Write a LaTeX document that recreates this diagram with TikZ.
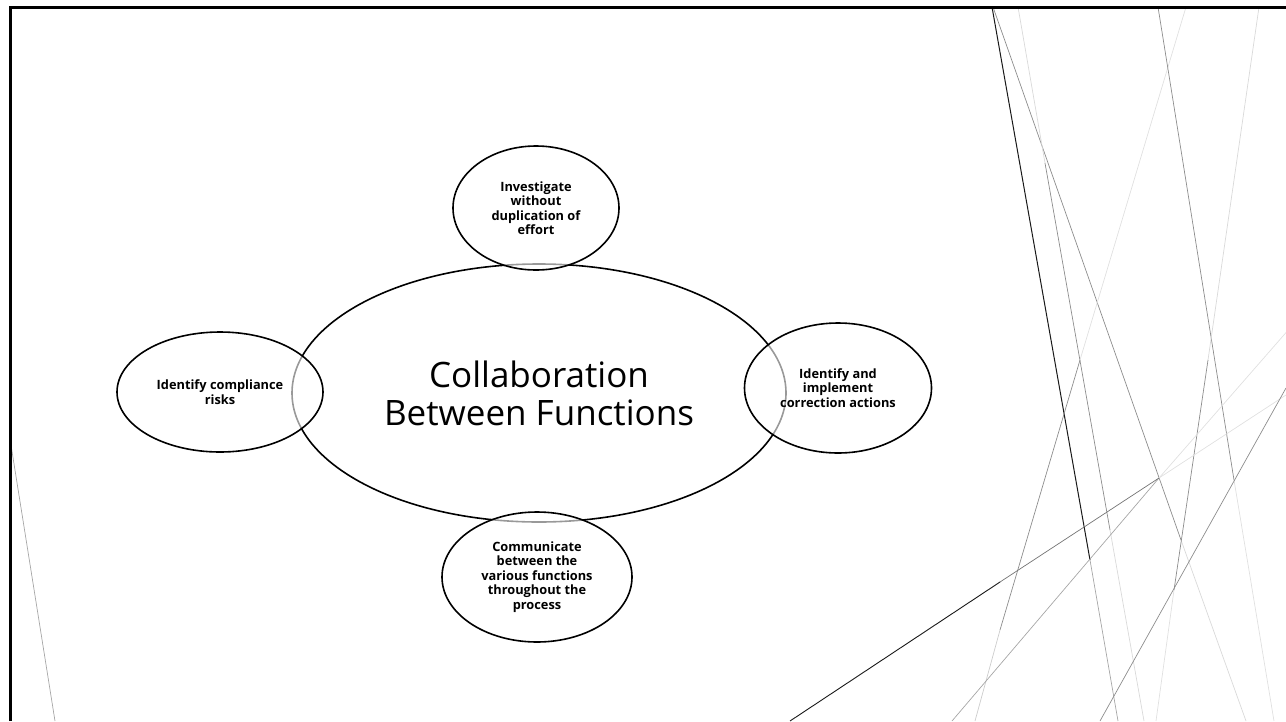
\documentclass[tikz,border=0pt]{standalone}
\usepackage{fontspec}
\setmainfont{Open Sans}
\usetikzlibrary{shapes.geometric}
\begin{document}
\begin{tikzpicture}[x=1pt,y=-1pt,
  bub/.style={ellipse,draw=black,line width=1.6pt,inner sep=0pt,align=center},
  smallbub/.style={bub,fill=white,fill opacity=0.6,text opacity=1,font=\bfseries\fontsize{12.8}{14.5}\selectfont},
  bgl/.style={line width=0.7pt}]
\useasboundingbox (0,0) rectangle (1286,721);
% background decorative lines
\draw[bgl,black!35] (11,445) -- (55,721);
\draw[bgl,black!90,line width=1pt] (992,7) -- (1090,560);
\draw[bgl,black!35] (1090,560) -- (1118,721);
\draw[bgl,black!45] (993,7) -- (1181,540);
\draw[bgl,black!15] (1181,540) -- (1246,721);
\draw[bgl,black!15] (1018,7) -- (1045,163);
\draw[bgl,black!45] (1045,163) -- (1110,530);
\draw[bgl,black!15] (1110,530) -- (1144,721);
\draw[bgl,black!12] (1186,7) -- (1080,360);
\draw[bgl,black!45] (1080,360) -- (1000,630);
\draw[bgl,black!20] (1000,630) -- (975,721);
\draw[bgl,black!45] (1158,7) -- (1234,480);
\draw[bgl,black!12] (1234,480) -- (1274,721);
\draw[bgl,black!15] (1259,7) -- (1208,360);
\draw[bgl,black!45] (1208,360) -- (1174,590);
\draw[bgl,black!12] (1174,590) -- (1156,721);
\draw[bgl,black!12] (1290,328) -- (1159,478);
\draw[bgl,black!35] (1159,478) -- (952,721);
\draw[bgl,black!12] (1286,395) -- (1159,478);
\draw[bgl,black!55] (1159,478) -- (1000,582);
\draw[bgl,black!90,line width=0.9pt] (1000,582) -- (790,721);
\draw[bgl,black!45] (1286,388) -- (1100,721);
% frame
\draw[line width=2.6pt,black] (10.5,721) -- (10.5,7.5) -- (1286,7.5);
% main ellipse
\node[bub,minimum width=494pt,minimum height=258pt,font=\fontsize{35}{38}\selectfont]
  (main) at (539,393) {Collaboration\\Between Functions};
% satellites
\node[smallbub,minimum width=166pt,minimum height=124pt] (top) at (536,208)
  {Investigate\\without\\duplication of\\effort};
\node[smallbub,minimum width=206pt,minimum height=120pt] (left) at (220,392)
  {Identify compliance\\risks};
\node[smallbub,minimum width=187pt,minimum height=130pt] (right) at (838,388)
  {Identify and\\implement\\correction actions};
\node[smallbub,minimum width=190pt,minimum height=130pt] (bottom) at (537,577)
  {Communicate\\between the\\various functions\\throughout the\\process};
\end{tikzpicture}
\end{document}
